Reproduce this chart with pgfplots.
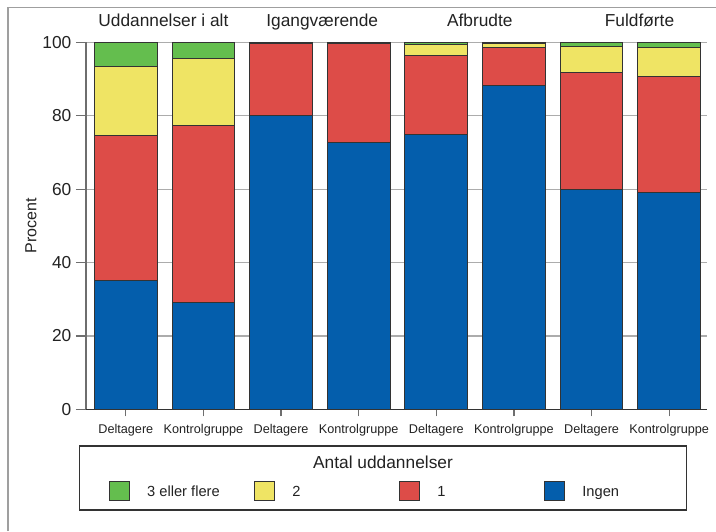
\documentclass[border=0pt]{standalone}
\usepackage{fontspec}
\setmainfont{Liberation Sans}
\usepackage{pgfplots}
\usepackage{pgfplotstable}
\pgfplotsset{compat=1.18}

\definecolor{cgreen}{HTML}{64BE4E}
\definecolor{cyellow}{HTML}{EFE464}
\definecolor{cred}{HTML}{DD4C48}
\definecolor{cblue}{HTML}{045EAC}
\definecolor{edge}{HTML}{333333}
\definecolor{axgray}{HTML}{6E6E6E}
\definecolor{txt}{HTML}{222222}

% pixel -> pt (716 px = 537 pt)
\newcommand\px[2]{({#1*0.75pt},{-#2*0.75pt})}

% Ingen, 1, 2, 3 eller flere (percent)
\pgfplotstableread{
x ingen en to tre
0 35.0 39.5 18.9 6.6
1 29.0 48.4 18.2 4.4
2 80.0 19.6 0.2 0.2
3 72.8 26.8 0.2 0.2
4 75.0 21.3 3.2 0.5
5 88.3 10.4 0.9 0.4
6 60.0 31.9 7.0 1.1
7 59.0 31.8 7.7 1.5
}\data

\pgfplotsset{
  sq/.style={legend image code/.code={
      \draw[##1, draw=edge, line width=0.75pt] (0pt,-6.5pt) rectangle (15pt,8pt);
      \path (28.1pt,0pt);
  }},
}

\begin{document}
\begin{tikzpicture}
\useasboundingbox \px{0}{0} rectangle \px{716}{531};
\draw[gray!75, line width=1.1pt] \px{8}{531} -- \px{8}{7.3} -- \px{716}{7.3};

\begin{axis}[
  at={(64.5pt,-306.975pt)}, anchor=south west,
  scale only axis, width=465.75pt, height=275.25pt,
  xmin=-0.513, xmax=7.487, ymin=0, ymax=100,
  clip=false,
  ybar stacked, bar width=0.808,
  axis x line*=bottom, axis y line*=left,
  axis line style={-, draw=axgray, line width=0.9pt},
  x axis line style={draw=edge},
  tick align=outside,
  major tick length=7.5pt,
  major tick style={draw=axgray, line width=0.9pt},
  xtick style={/pgfplots/major tick length=5.25pt},
  xtick={0,...,7},
  xticklabels={Deltagere,Kontrolgruppe,Deltagere,Kontrolgruppe,Deltagere,Kontrolgruppe,Deltagere,Kontrolgruppe},
  ytick={0,20,...,100},
  ymajorgrids, grid style={gray!65, line width=0.9pt},
  /pgf/number format/assume math mode=true,
  yticklabel style={font=\fontsize{13}{15}\selectfont, text=txt},
  xticklabel style={font=\fontsize{9.5}{11}\selectfont, text=txt},
  ylabel={Procent},
  ylabel style={at={(rel axis cs:-0.0886,0.5)}, anchor=center, font=\fontsize{12}{14}\selectfont, text=txt},
  every axis plot/.append style={draw=edge, line width=0.75pt},
  legend columns=4, reverse legend,
  legend cell align=left,
  legend style={at={(0.0366,-0.2226)}, anchor=west, draw=none, fill=none,
    inner sep=0pt, outer sep=0pt, column sep=0pt,
    nodes={inner sep=0pt, font=\fontsize{11}{13}\selectfont, text=txt}},
]
\addplot[fill=cblue, sq] table[x=x, y=ingen] {\data};
\addlegendentry{\makebox[79.95pt][l]{Ingen}}
\addplot[fill=cred, sq] table[x=x, y=en] {\data};
\addlegendentry{\makebox[79.95pt][l]{1}}
\addplot[fill=cyellow, sq] table[x=x, y=to] {\data};
\addlegendentry{\makebox[79.95pt][l]{2}}
\addplot[fill=cgreen, sq] table[x=x, y=tre] {\data};
\addlegendentry{\makebox[79.95pt][l]{3 eller flere}}

\node[anchor=base, font=\fontsize{13}{15}\selectfont, text=txt, yshift=11.7pt] at (axis cs:0.484,100) {Uddannelser i alt};
\node[anchor=base, font=\fontsize{13}{15}\selectfont, text=txt, yshift=11.7pt] at (axis cs:2.53,100) {Igangværende};
\node[anchor=base, font=\fontsize{13}{15}\selectfont, text=txt, yshift=11.7pt] at (axis cs:4.56,100) {Afbrudte};
\node[anchor=base, font=\fontsize{13}{15}\selectfont, text=txt, yshift=11.7pt] at (axis cs:6.617,100) {Fuldførte};
\end{axis}

\draw[edge, line width=0.9pt] \px{79.3}{446} rectangle \px{686.7}{510};
\node[anchor=base, font=\fontsize{13}{15}\selectfont, text=txt] at \px{383}{468.3} {Antal uddannelser};
\end{tikzpicture}
\end{document}
